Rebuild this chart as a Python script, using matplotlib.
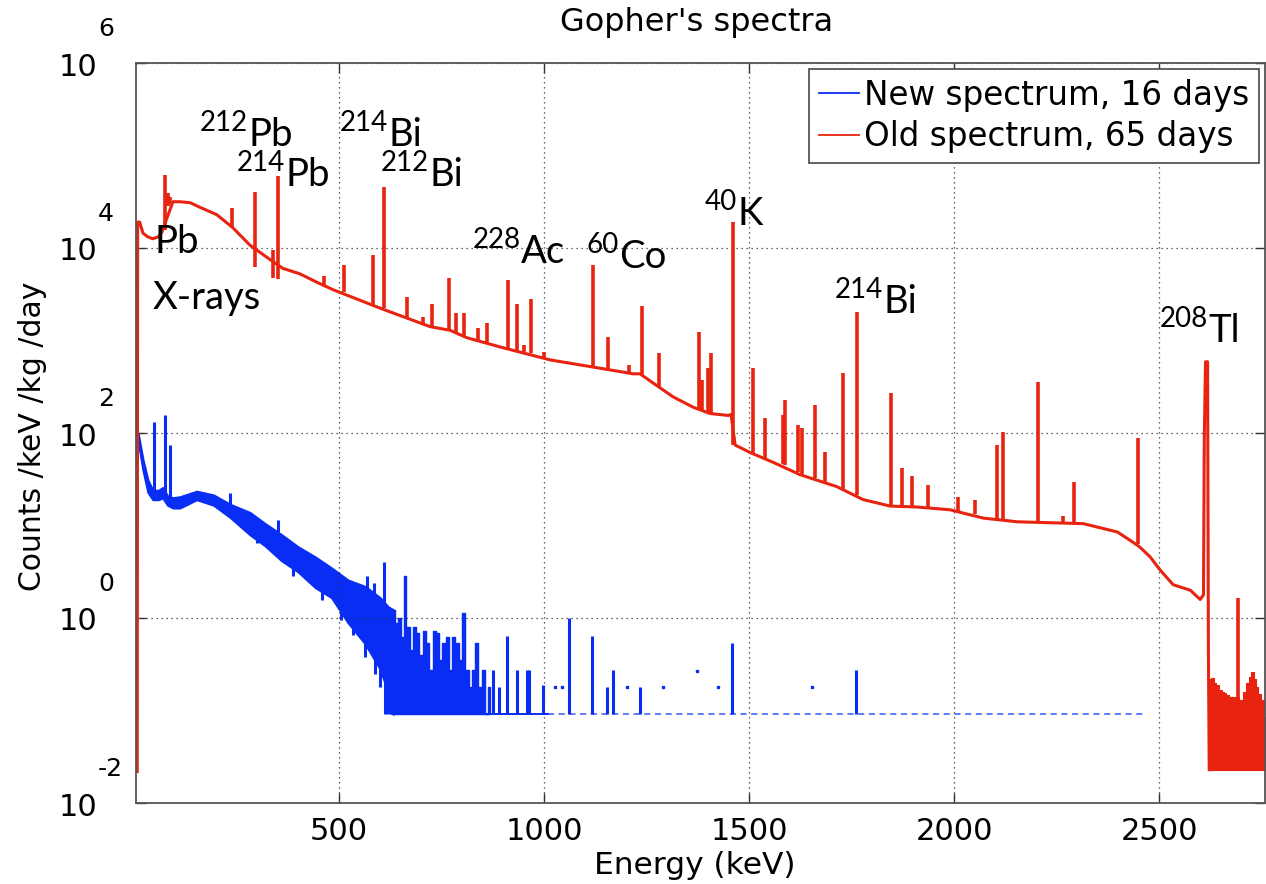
import matplotlib

matplotlib.use("Agg")

import matplotlib.pyplot as plt
import matplotlib.transforms as mtransforms
import numpy as np
from matplotlib.lines import Line2D

# ---- data: energies in keV, values as log10(counts /keV /kg /day) ----

# old spectrum (65 days): smooth continuum
red_cont_e = [8, 9, 14, 22, 34, 46, 59, 68, 72, 95, 112, 137, 161, 202, 241, 283,
              324, 363, 405, 446, 485, 600, 722, 771, 812, 893, 1015, 1137, 1217,
              1234, 1266, 1315, 1363, 1405, 1449, 1456, 1466, 1502, 1560, 1624,
              1714, 1778, 1844, 1909, 1990, 2071, 2154, 2234, 2315, 2398, 2429,
              2452, 2478, 2502, 2534, 2576, 2600, 2608, 2610, 2613, 2618, 2620, 2622]
red_cont_log = [-1.66, 4.28, 4.28, 4.16, 4.12, 4.10, 4.12, 4.17, 4.22, 4.50, 4.50,
                4.49, 4.44, 4.36, 4.22, 4.03, 3.90, 3.78, 3.72, 3.63, 3.55, 3.35,
                3.15, 3.11, 3.03, 2.93, 2.79, 2.70, 2.64, 2.64, 2.54, 2.39, 2.28,
                2.21, 2.19, 2.20, 1.87, 1.79, 1.68, 1.55, 1.42, 1.28, 1.21, 1.20,
                1.17, 1.08, 1.04, 1.03, 1.02, 0.93, 0.84, 0.77, 0.66, 0.52, 0.36,
                0.30, 0.20, 0.25, 1.95, 2.77, 2.77, -0.35, -1.64]

# old spectrum: gamma lines (energy, foot, top)
red_peak_e = [75, 84, 88, 238, 295, 338, 352, 463, 511, 583, 609, 666, 705, 727, 768,
              786, 806, 839, 861, 911, 934, 952, 969, 1001, 1120, 1155, 1207, 1238,
              1281, 1377, 1385, 1401, 1408, 1460, 1509, 1539, 1583, 1588, 1620, 1630,
              1661, 1685, 1730, 1764, 1847, 1873, 1897, 1937, 2010, 2052, 2104, 2118,
              2204, 2266, 2293, 2448, 2693]
red_peak_base = [4.20, 4.45, 4.48, 4.23, 3.79, 3.68, 3.66, 3.60, 3.52, 3.38, 3.35,
                 3.24, 3.17, 3.15, 3.11, 3.09, 3.05, 3.00, 2.98, 2.91, 2.89, 2.87,
                 2.86, 2.80, 2.71, 2.69, 2.65, 2.63, 2.50, 2.26, 2.25, 2.22, 2.22,
                 1.87, 1.78, 1.72, 1.66, 1.65, 1.58, 1.56, 1.51, 1.47, 1.40, 1.33,
                 1.21, 1.21, 1.21, 1.19, 1.15, 1.12, 1.06, 1.06, 1.03, 1.02, 1.02,
                 0.80, -1.64]
red_peak_top = [4.79, 4.60, 4.55, 4.43, 4.61, 3.98, 4.78, 3.70, 3.82, 3.92, 4.66,
                3.47, 3.25, 3.40, 3.68, 3.30, 3.30, 3.14, 3.19, 3.65, 3.39, 2.95,
                3.45, 2.88, 3.82, 3.04, 2.74, 3.37, 2.86, 3.09, 2.57, 2.70, 2.87,
                4.28, 2.70, 2.16, 2.20, 2.36, 2.09, 2.05, 2.30, 1.79, 2.65, 3.31,
                2.43, 1.62, 1.54, 1.44, 1.31, 1.28, 1.87, 2.01, 2.55, 1.10, 1.47,
                1.95, 0.22]

# old spectrum: noisy tail above the 208Tl line
red_tail_e = [2622, 2629, 2636, 2642, 2649, 2655, 2661, 2667, 2673, 2679, 2685,
              2702, 2708, 2715, 2721, 2727, 2733, 2739, 2745, 2751, 2758]
red_tail_log = [-0.66, -0.65, -0.70, -0.72, -0.78, -0.80, -0.81, -0.83, -0.85,
                -0.85, -0.85, -0.89, -0.80, -0.70, -0.64, -0.58, -0.66, -0.75,
                -0.82, -0.89, -1.07]
red_floor = -1.64

# new spectrum (16 days): body of the noisy band
blue_band_e = [10, 22, 34, 46, 60, 70, 82, 95, 112, 153, 194, 234, 283, 320, 360,
               400, 442, 482, 522, 564, 600, 620, 632]
blue_band_lo = [1.92, 1.60, 1.36, 1.28, 1.28, 1.30, 1.22, 1.19, 1.19, 1.28, 1.22,
                1.09, 0.90, 0.78, 0.62, 0.50, 0.33, 0.22, -0.05, -0.28, -0.55,
                -0.80, -1.04]
blue_band_hi = [2.00, 1.71, 1.49, 1.38, 1.38, 1.41, 1.32, 1.30, 1.31, 1.37, 1.33,
                1.23, 1.14, 1.02, 0.90, 0.77, 0.66, 0.54, 0.41, 0.34, 0.22, 0.12,
                0.09]

# new spectrum: binned counts just above threshold (drawn from the floor)
blue_bins_e = [632, 640, 648, 656, 661, 668, 676, 684, 692, 700, 708, 716, 724, 732,
               740, 748, 756, 764, 772, 780, 788, 796, 804, 812, 820, 828, 836, 844,
               852, 860, 868]
blue_bins_top = [0.09, -0.05, 0.00, -0.20, 0.45, -0.10, -0.35, -0.10, -0.16, -0.40,
                 -0.14, -0.27, -0.56, -0.14, -0.16, -0.45, -0.27, -0.20, -0.56, -0.20,
                 -0.27, -0.45, 0.05, -0.56, -0.75, -0.56, -0.27, -0.75, -0.56, -1.04,
                 -0.75]

# new spectrum: single bins sticking up (energy, foot, top)
blue_spike_e = [49, 76, 88, 233, 351, 568, 585, 610, 876, 890, 910, 934, 958, 964,
                998, 1061, 1117, 1154, 1168, 1234, 1459, 1761]
blue_spike_lo = [1.35, 1.35, 1.25, 1.20, 0.90, 0.30, 0.20, 0.12, -1.04, -1.04,
                 -1.04, -1.04, -1.04, -1.04, -1.04, -1.04, -1.04, -1.04, -1.04,
                 -1.04, -1.04, -1.04]
blue_spike_hi = [2.12, 2.19, 1.87, 1.35, 1.06, 0.45, 0.38, 0.61, -0.56, -0.75,
                 -0.19, -0.56, -0.56, -0.56, -0.72, 0.00, -0.19, -0.75, -0.56, -0.75,
                 -0.27, -0.56]

# new spectrum: single bins dipping below the band (energy, bottom, band edge)
blue_dip_e = [299, 389, 458, 506, 535, 563, 587, 600, 612, 620, 626]
blue_dip_lo = [0.81, 0.45, 0.19, -0.02, -0.18, -0.42, -0.60, -0.75, -1.04, -1.04, -1.04]
blue_dip_hi = [0.95, 0.65, 0.40, 0.20, 0.05, -0.05, -0.30, -0.40, -0.60, -0.70, -0.80]

# new spectrum: isolated single-count bins
blue_dot_e = [1027, 1044, 1202, 1290, 1373, 1424, 1654]
blue_dot_log = [-0.75, -0.75, -0.75, -0.75, -0.57, -0.75, -0.75]

blue_floor = -1.04
blue_floor_e = [630, 1010, 2470]

labels = ["New spectrum, 16 days", "Old spectrum, 65 days"]
x_ticks = [500, 1000, 1500, 2000, 2500]
y_exps = [-2, 0, 2, 4, 6]

# isotope annotations: (mass number, element, left px, baseline px)
isotopes = [
    ("212", "Pb", 200, 146),
    ("214", "Pb", 237, 186),
    ("214", "Bi", 340, 146),
    ("212", "Bi", 381, 186),
    ("228", "Ac", 473, 263),
    ("60", "Co", 587, 268),
    ("40", "K", 705, 225),
    ("214", "Bi", 835, 313),
    ("208", "Tl", 1160, 342),
]

RED = "#e8230f"
BLUE = "#0a2df5"
LABEL_FONT = "Lato"
W, H = 1266, 884


def lg(v):
    return np.power(10.0, np.asarray(v, dtype=float))


fig = plt.figure(figsize=(W / 100, H / 100), dpi=100)
ax = fig.add_axes([136 / W, 1 - 803 / H, (1265 - 136) / W, (803 - 63) / H])

# new spectrum
fl = 10 ** blue_floor
ax.fill_between(blue_band_e, lg(blue_band_lo), lg(blue_band_hi), color=BLUE,
                linewidth=1.6, edgecolor=BLUE)
ax.fill_between(blue_bins_e, fl, lg(blue_bins_top), step="mid", color=BLUE,
                linewidth=1.0, edgecolor=BLUE)
ax.vlines(blue_spike_e, lg(blue_spike_lo), lg(blue_spike_hi), color=BLUE, linewidth=2.2)
ax.vlines(blue_dip_e, lg(blue_dip_lo), lg(blue_dip_hi), color=BLUE, linewidth=2.2)
ax.plot(blue_dot_e, lg(blue_dot_log), "s", color=BLUE, markersize=1.5)
ax.plot(blue_floor_e[:2], [fl, fl], color=BLUE, linewidth=1.4)
ax.plot(blue_floor_e[1:], [fl, fl], color=BLUE, linewidth=1.1, dashes=(4, 3), alpha=0.8)

# old spectrum
ax.plot(red_cont_e, lg(red_cont_log), color=RED, linewidth=2.2)
ax.vlines(red_peak_e, lg(red_peak_base), lg(red_peak_top), color=RED, linewidth=2.6)
ax.fill_between(red_tail_e, 10 ** red_floor, lg(red_tail_log), step="mid",
                color=RED, linewidth=0.8, edgecolor=RED)

ax.set_yscale("log")
ax.set_xlim(5, 2758)
ax.set_ylim(1e-2, 1e6)
ax.set_xticks(x_ticks)
ax.set_xticklabels([str(t) for t in x_ticks], fontsize=22)
ax.set_yticks([10.0 ** k for k in y_exps])
ax.yaxis.set_minor_locator(matplotlib.ticker.NullLocator())
ax.set_yticklabels([])
ax.tick_params(direction="in", length=7, width=1.0, color="#333333",
               top=True, right=True, pad=10)
ax.grid(True, color="#333333", linestyle=(0, (1, 3)), linewidth=0.9)
for sp in ax.spines.values():
    sp.set_color("#555555")
    sp.set_linewidth(1.3)

# y tick labels in the 10 / exponent style
trans = mtransforms.blended_transform_factory(fig.transFigure, ax.transData)
base_tr = mtransforms.offset_copy(trans, fig=fig, y=-4, units="dots")
exp_tr = mtransforms.offset_copy(trans, fig=fig, y=34, units="dots")
for k in y_exps:
    fig.text(97 / W, 10.0 ** k, "10", transform=base_tr, fontsize=22,
             ha="right", va="center")
    fig.text(98 / W, 10.0 ** k, str(k), transform=exp_tr, fontsize=18,
             ha="left", va="center")

fig.text(697 / W, 1 - 22 / H, "Gopher's spectra", fontsize=23, ha="center", va="center")
fig.text(695 / W, 1 - 866 / H, "Energy (keV)", fontsize=22.5, ha="center", va="center")
fig.text(33 / W, 1 - 436 / H, "Counts /keV /kg /day", fontsize=21.5, rotation=90,
         ha="center", va="center")

handles = [Line2D([], [], color=BLUE, linewidth=1.3),
           Line2D([], [], color=RED, linewidth=1.3)]
leg = ax.legend(handles, labels, loc="upper right",
                bbox_to_anchor=(1259 / W, 1 - 69 / H), bbox_transform=fig.transFigure,
                borderaxespad=0, fontsize=23.5, handlelength=1.23, handletextpad=0.15,
                labelspacing=0.25, borderpad=0.3, fancybox=False, framealpha=1)
leg.get_frame().set_edgecolor("#555555")
leg.get_frame().set_linewidth(1.3)

# isotope labels with superscript mass numbers
renderer = fig.canvas.get_renderer()
for mass, elem, x, y in isotopes:
    t = fig.text(x / W, 1 - (y - 15) / H, mass, fontsize=20, family=LABEL_FONT,
                 ha="left", va="baseline")
    bb = t.get_window_extent(renderer=renderer)
    fig.text(bb.x1 / W, 1 - y / H, elem, fontsize=27.5, family=LABEL_FONT,
             ha="left", va="baseline")
fig.text(155 / W, 1 - 253 / H, "Pb", fontsize=27.5, family=LABEL_FONT, ha="left", va="baseline")
fig.text(153 / W, 1 - 309 / H, "X-rays", fontsize=27.5, family=LABEL_FONT, ha="left", va="baseline")

fig.savefig("out.png", dpi=100)
plt.close(fig)
